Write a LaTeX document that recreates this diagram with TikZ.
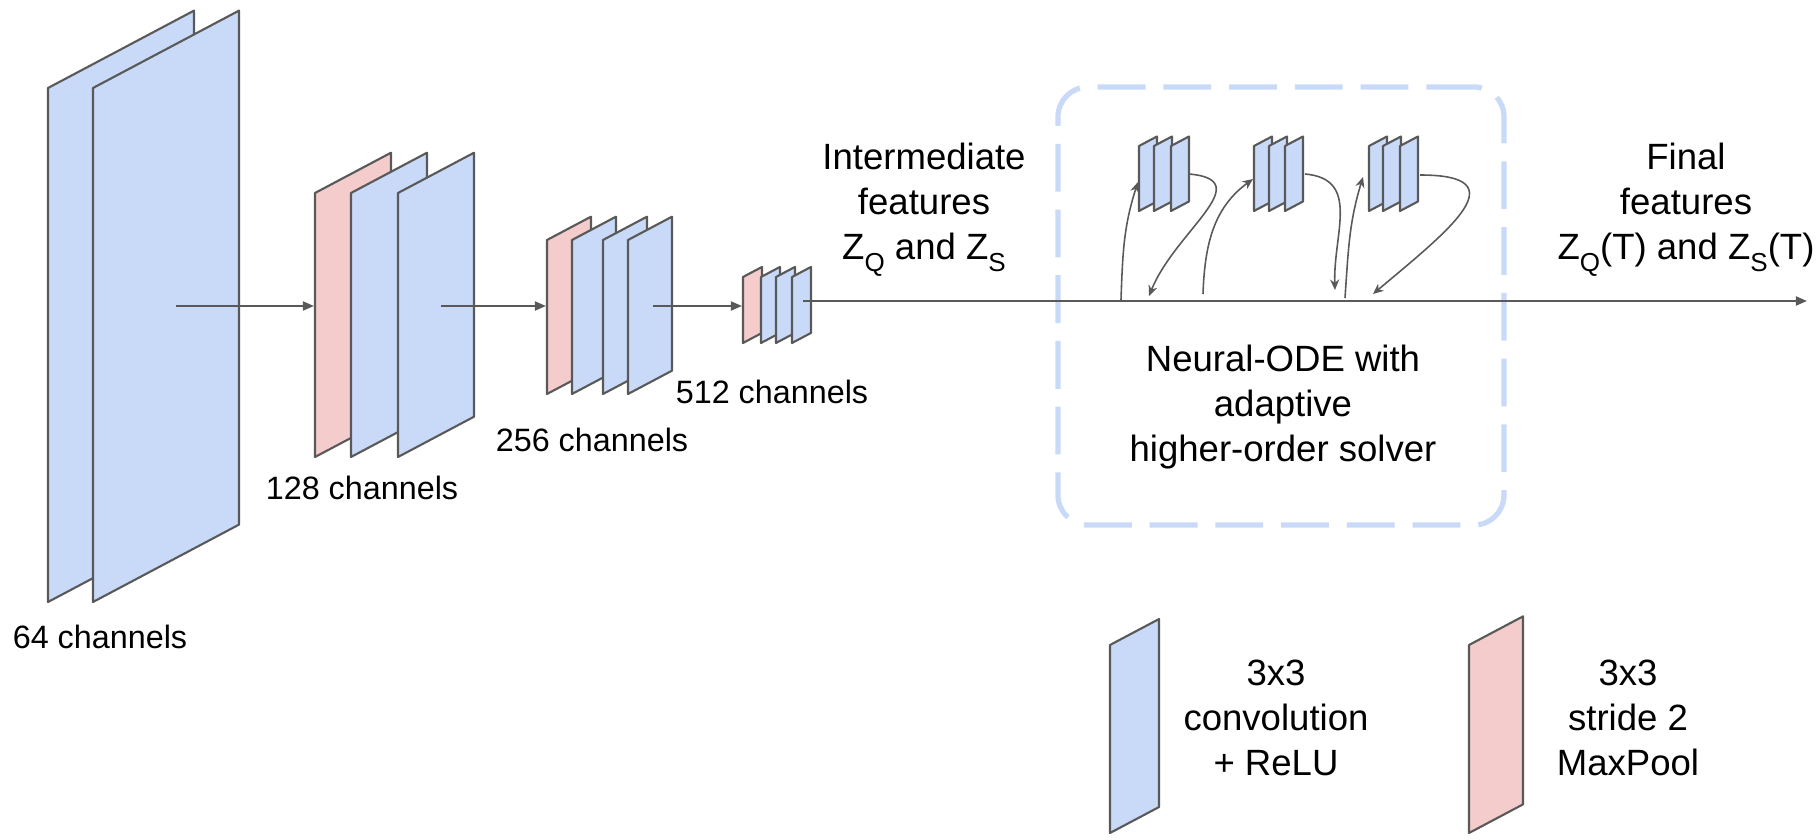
\documentclass[tikz,border=0pt]{standalone}
\usepackage{fontspec}
\setmainfont{Liberation Sans}
\usepackage{tikz}
\usetikzlibrary{arrows.meta, positioning}
\definecolor{convblue}{HTML}{C9DAF8}
\definecolor{poolpink}{HTML}{F4CCCC}
\definecolor{edgegray}{HTML}{595959}
\tikzset{
  plane/.style={draw=edgegray, line width=0.6pt, line join=round},
  flow/.style={draw=edgegray, line width=0.55pt, -{Triangle[length=3.2pt, width=2.6pt]}},
  odearrow/.style={draw=edgegray, line width=0.45pt, -{Stealth[length=3pt, width=2.6pt]}},
  bigtext/.style={font=\fontsize{10.4}{12.8}\selectfont, align=center, inner sep=0pt},
  chantext/.style={font=\fontsize{9.2}{11}\selectfont, inner sep=0pt},
  odebox/.style={draw=convblue, line width=1.5pt, rounded corners=8.5pt,
    dash pattern=on 13.6pt off 5.1pt,
    minimum width=4.46cm, minimum height=4.38cm, inner sep=0pt}
}
% one feature map: fill, left x, top-left depth, width, height
\newcommand{\plane}[5]{%
  \draw[plane, fill=#1] (#2,-#3) -- ++(0,-#5) -- ++(#4,0.53*#4) -- ++(0,#5) -- cycle;}
\newcommand{\lowsub}[1]{\raisebox{-0.32em}{\fontsize{7.4}{8}\selectfont #1}}

\begin{document}
\begin{tikzpicture}
  \useasboundingbox (0,0) rectangle (18.2,-8.4);

  % 64 channels
  \plane{convblue}{0.48}{0.88}{1.46}{5.14}
  \plane{convblue}{0.93}{0.88}{1.46}{5.14}
  % 128 channels
  \plane{poolpink}{3.15}{1.93}{0.76}{2.64}
  \plane{convblue}{3.51}{1.93}{0.76}{2.64}
  \plane{convblue}{3.98}{1.93}{0.76}{2.64}
  % 256 channels
  \plane{poolpink}{5.47}{2.40}{0.44}{1.54}
  \plane{convblue}{5.72}{2.40}{0.44}{1.54}
  \plane{convblue}{6.03}{2.40}{0.44}{1.54}
  \plane{convblue}{6.28}{2.40}{0.44}{1.54}
  % 512 channels
  \plane{poolpink}{7.43}{2.77}{0.19}{0.66}
  \plane{convblue}{7.61}{2.77}{0.19}{0.66}
  \plane{convblue}{7.76}{2.77}{0.19}{0.66}
  \plane{convblue}{7.92}{2.77}{0.19}{0.66}

  \node[chantext] (lbl64)  at (1.00,-6.37) {64 channels};
  \node[chantext] (lbl128) at (3.62,-4.88) {128 channels};
  \node[chantext] (lbl256) at (5.92,-4.40) {256 channels};
  \node[chantext] (lbl512) at (7.72,-3.92) {512 channels};

  \coordinate (out64)  at (1.76,-3.06);
  \coordinate (in128)  at (3.14,-3.06);
  \coordinate (out128) at (4.41,-3.06);
  \coordinate (in256)  at (5.46,-3.06);
  \coordinate (out256) at (6.53,-3.06);
  \coordinate (in512)  at (7.42,-3.06);
  \coordinate (out512) at (8.03,-3.01);
  \coordinate (result) at (18.07,-3.01);

  \draw[flow] (out64) -- (in128);
  \draw[flow] (out128) -- (in256);
  \draw[flow] (out256) -- (in512);

  % ODE solver
  \node[odebox] (ode) at (12.81,-3.06) {};
  \draw[flow] (out512) -- (result);

  \plane{convblue}{11.39}{1.46}{0.18}{0.65}
  \plane{convblue}{11.54}{1.46}{0.18}{0.65}
  \plane{convblue}{11.71}{1.46}{0.18}{0.65}
  \plane{convblue}{12.54}{1.46}{0.18}{0.65}
  \plane{convblue}{12.69}{1.46}{0.18}{0.65}
  \plane{convblue}{12.85}{1.46}{0.18}{0.65}
  \plane{convblue}{13.69}{1.46}{0.18}{0.65}
  \plane{convblue}{13.83}{1.46}{0.18}{0.65}
  \plane{convblue}{14.00}{1.46}{0.18}{0.65}

  \coordinate (up1)   at (11.21,-3.00);
  \coordinate (get1)  at (11.38,-1.82);
  \coordinate (from1) at (11.89,-1.74);
  \coordinate (back1) at (11.49,-2.96);
  \coordinate (up2)   at (12.03,-2.94);
  \coordinate (get2)  at (12.53,-1.79);
  \coordinate (from2) at (13.05,-1.74);
  \coordinate (back2) at (13.35,-2.90);
  \coordinate (up3)   at (13.45,-2.98);
  \coordinate (get3)  at (13.63,-1.77);
  \coordinate (from3) at (14.20,-1.75);
  \coordinate (back3) at (13.73,-2.94);

  \draw[odearrow] (up1) to[out=88, in=252] (get1);
  \draw[odearrow] (from1) to[out=-5, in=68, looseness=1.4] (back1);
  \draw[odearrow] (up2) to[out=88, in=216] (get2);
  \draw[odearrow] (from2) to[out=-5, in=92, looseness=1.2] (back2);
  \draw[odearrow] (up3) to[out=86, in=253] (get3);
  \draw[odearrow] (from3) to[out=0, in=40, looseness=2] (back3);

  \node[bigtext] (inter)   at (9.24,-2.10) {Intermediate\\features\\Z\lowsub{Q} and Z\lowsub{S}};
  \node[bigtext] (final)   at (16.86,-2.10) {Final\\features\\Z\lowsub{Q}(T) and Z\lowsub{S}(T)};
  \node[bigtext] (odetext) at (12.83,-4.07) {Neural-ODE with\\adaptive\\higher-order solver};

  % legend
  \plane{convblue}{11.10}{6.45}{0.49}{1.88}
  \plane{poolpink}{14.69}{6.45}{0.54}{1.88}
  \node[bigtext] (convtext) at (12.76,-7.18) {3x3\\convolution\\+ ReLU};
  \node[bigtext] (pooltext) at (16.28,-7.18) {3x3\\stride 2\\MaxPool};
\end{tikzpicture}
\end{document}
